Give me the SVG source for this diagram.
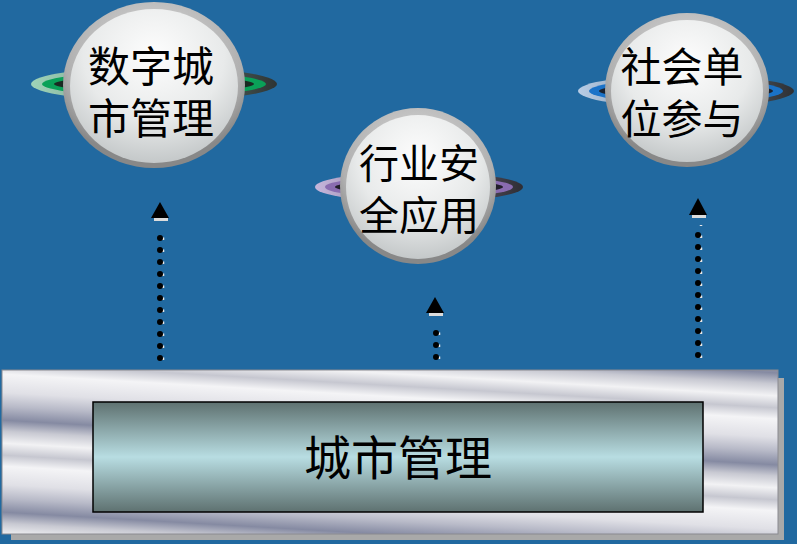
<svg xmlns="http://www.w3.org/2000/svg" width="797" height="544" viewBox="0 0 797 544">
<defs>
  <linearGradient id="metal" gradientUnits="userSpaceOnUse" x1="0" y1="374" x2="-5.3" y2="465.7" spreadMethod="repeat">
    <stop offset="0" stop-color="#f4f4f6"/>
    <stop offset="0.2" stop-color="#e0e0e6"/>
    <stop offset="0.35" stop-color="#b8bac8"/>
    <stop offset="0.5" stop-color="#858aa2"/>
    <stop offset="0.62" stop-color="#c8c9d2"/>
    <stop offset="0.75" stop-color="#f2f2f4"/>
    <stop offset="0.88" stop-color="#c6c7d0"/>
    <stop offset="1" stop-color="#f4f4f6"/>
  </linearGradient>
  <linearGradient id="panel" x1="0" y1="0" x2="0" y2="1">
    <stop offset="0" stop-color="#5e7170"/>
    <stop offset="0.5" stop-color="#b8dde2"/>
    <stop offset="1" stop-color="#5e7170"/>
  </linearGradient>
  <radialGradient id="sphereRim" cx="0.5" cy="0.35" r="0.6">
    <stop offset="0" stop-color="#e4e4e4"/>
    <stop offset="0.8" stop-color="#b0b0b0"/>
    <stop offset="1" stop-color="#888"/>
  </radialGradient>
  <radialGradient id="sphereFace" cx="0.5" cy="0.3" r="0.7">
    <stop offset="0" stop-color="#fdfdfd"/>
    <stop offset="0.6" stop-color="#e8eaea"/>
    <stop offset="1" stop-color="#c4c8c9"/>
  </radialGradient>
  <linearGradient id="ringG" x1="0" y1="0" x2="1" y2="0">
    <stop offset="0" stop-color="#9fd4b8"/>
    <stop offset="0.5" stop-color="#6a8a80"/>
    <stop offset="1" stop-color="#2e3434"/>
  </linearGradient>
  <linearGradient id="ringP" x1="0" y1="0" x2="1" y2="0">
    <stop offset="0" stop-color="#c6b6dc"/>
    <stop offset="0.5" stop-color="#7a6e8a"/>
    <stop offset="1" stop-color="#2e2e34"/>
  </linearGradient>
  <linearGradient id="ringB" x1="0" y1="0" x2="1" y2="0">
    <stop offset="0" stop-color="#b8cde6"/>
    <stop offset="0.5" stop-color="#6a7c90"/>
    <stop offset="1" stop-color="#2e3034"/>
  </linearGradient>
  <style>
    .label{font-family:"Noto Sans CJK SC","Noto Sans CJK TC",sans-serif;fill:#000;text-anchor:middle}
    .dots{stroke:#000;stroke-width:6;stroke-linecap:round;stroke-dasharray:0 12;fill:none}
    .wdots{stroke:#e8e8e8;stroke-width:2.5;stroke-dasharray:2.5 9.5;fill:none}
    .head{fill:#000}
    .headsh{fill:#dcdcdc}
  </style>
</defs>
<rect x="0" y="0" width="797" height="544" fill="#2169a0"/>

<g id="connectors">
  <g id="arrow1">
    <path class="wdots" d="M163,360 V228"/>
    <path class="dots" d="M160,358 V226"/>
    <rect class="headsh" x="154" y="217" width="14" height="4"/>
    <path class="head" d="M160,202 L169,218 L151,218 Z"/>
  </g>
  <g id="arrow2">
    <path class="wdots" d="M439,359 V323"/>
    <path class="dots" d="M436,357 V321"/>
    <rect class="headsh" x="429" y="312" width="14" height="4"/>
    <path class="head" d="M435,297 L444,313 L426,313 Z"/>
  </g>
  <g id="arrow3">
    <path class="wdots" d="M701,358 V225"/>
    <path class="dots" d="M698,355 V223"/>
    <rect class="headsh" x="692" y="214" width="14" height="4"/>
    <path class="head" d="M698,198 L707,215 L689,215 Z"/>
  </g>
</g>

<g id="city-management">
  <rect x="11" y="378" width="773" height="162" fill="#a9a9a9"/>
  <rect x="2" y="370" width="776" height="164" fill="url(#metal)" stroke="#8a8a90" stroke-width="1"/>
  <rect x="93" y="402" width="610" height="110" fill="url(#panel)" stroke="#000" stroke-width="1.5"/>
  <text class="label" x="398" y="475" font-size="47">城市管理</text>
</g>

<g id="digital-city">
  <ellipse cx="154" cy="84" rx="123" ry="17" fill="url(#ringG)"/>
  <ellipse cx="154" cy="84" rx="112" ry="12" fill="#0aa158"/>
  <ellipse cx="154" cy="84" rx="100" ry="8" fill="#1a2a22"/>
  <ellipse cx="154" cy="85" rx="91" ry="83" fill="url(#sphereRim)"/>
  <ellipse cx="154" cy="86" rx="84" ry="77" fill="url(#sphereFace)"/>
  <text class="label" font-size="42"><tspan x="151" y="82">数字城</tspan><tspan x="151" y="134">市管理</tspan></text>
</g>

<g id="industry-safety">
  <ellipse cx="419" cy="187" rx="104" ry="15" fill="url(#ringP)"/>
  <ellipse cx="419" cy="187" rx="94" ry="11" fill="#8a6cb0"/>
  <ellipse cx="419" cy="187" rx="84" ry="7" fill="#221e2a"/>
  <ellipse cx="418" cy="186" rx="78" ry="78" fill="url(#sphereRim)"/>
  <ellipse cx="418" cy="187" rx="72" ry="72" fill="url(#sphereFace)"/>
  <text class="label" font-size="40"><tspan x="419" y="178">行业安</tspan><tspan x="419" y="230">全应用</tspan></text>
</g>

<g id="social-participation">
  <ellipse cx="686" cy="91" rx="108" ry="16" fill="url(#ringB)"/>
  <ellipse cx="686" cy="91" rx="97" ry="12" fill="#1a72c8"/>
  <ellipse cx="686" cy="91" rx="87" ry="8" fill="#1a2230"/>
  <ellipse cx="687" cy="90" rx="82" ry="77" fill="url(#sphereRim)"/>
  <ellipse cx="687" cy="91" rx="76" ry="71" fill="url(#sphereFace)"/>
  <text class="label" font-size="41"><tspan x="682" y="82">社会单</tspan><tspan x="682" y="134">位参与</tspan></text>
</g>
</svg>
